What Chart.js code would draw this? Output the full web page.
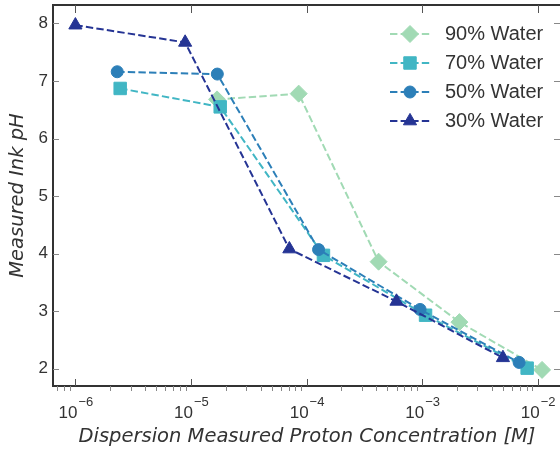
<!DOCTYPE html>
<html>
<head>
<meta charset="utf-8">
<script src="https://cdn.jsdelivr.net/npm/chart.js@4.4.1/dist/chart.umd.min.js"></script>
<style>
    html, body { margin: 0; padding: 0; background: #fff; overflow: hidden; }
    #contenedor { width: 560px; height: 454px; overflow: hidden; }
</style>
</head>
<body>
<div id="contenedor"><canvas id="graficaPh" width="562" height="454"></canvas></div>
<script>
// datos
const etiquetas = ['90% Water', '70% Water', '50% Water', '30% Water'];

const conc90 = [1.68e-5, 8.55e-5, 4.2e-4, 2.1e-3, 1.09e-2];
const ph90 = [6.68, 6.78, 3.86, 2.81, 1.98];

const conc70 = [2.44e-6, 1.79e-5, 1.40e-4, 1.07e-3, 8.1e-3];
const ph70 = [6.87, 6.55, 3.97, 2.93, 2.01];

const conc50 = [2.3e-6, 1.69e-5, 1.27e-4, 9.6e-4, 6.9e-3];
const ph50 = [7.16, 7.12, 4.07, 3.03, 2.11];

const conc30 = [1.0e-6, 8.9e-6, 7.1e-5, 6.0e-4, 5.0e-3];
const ph30 = [7.97, 7.67, 4.08, 3.17, 2.19];

const xMayores = [1e-6, 1e-5, 1e-4, 1e-3, 1e-2];
const yTicks = [2, 3, 4, 5, 6, 7, 8];

const colores = ['#a1dab4', '#41b6c4', '#2c7fb8', '#253494'];
const marcadores = ['rectRot', 'rect', 'circle', 'triangle'];
const radios = [8.5, 8.8, 6, 7.6];

const series = [[conc90, ph90], [conc70, ph70], [conc50, ph50], [conc30, ph30]];

function puntos(xs, ys) {
    return xs.map((v, i) => ({ x: v, y: ys[i] }));
}

const datasets = series.map((s, i) => ({
    label: etiquetas[i],
    data: puntos(s[0], s[1]),
    showLine: true,
    borderColor: colores[i],
    backgroundColor: colores[i],
    borderWidth: 2,
    borderDash: [7.4, 3.2],
    pointStyle: marcadores[i],
    pointRadius: radios[i],
    pointBorderWidth: 1,
    pointBorderColor: colores[i],
    pointBackgroundColor: colores[i],
    order: series.length - i
}));

const colorTexto = '#333';

function linea(ctx, x1, y1, x2, y2) {
    ctx.beginPath();
    ctx.moveTo(x1, y1);
    ctx.lineTo(x2, y2);
    ctx.stroke();
}

const ejesPlugin = {
    id: 'ejes',
    afterDraw(chart) {
        const ctx = chart.ctx;
        const area = chart.chartArea;
        const sx = chart.scales.x;
        const sy = chart.scales.y;
        ctx.save();

        // marco
        ctx.strokeStyle = '#333';
        ctx.lineWidth = 2;
        ctx.beginPath();
        ctx.moveTo(area.left, area.top);
        ctx.lineTo(area.right, area.top);
        ctx.lineTo(area.right, area.bottom);
        ctx.lineTo(area.left, area.bottom);
        ctx.closePath();
        ctx.stroke();

        // ticks mayores en x
        ctx.lineWidth = 1;
        ctx.strokeStyle = '#555';
        xMayores.forEach((v) => {
            const px = Math.round(sx.getPixelForValue(v)) + 0.5;
            linea(ctx, px, area.bottom, px, area.bottom - 7);
            linea(ctx, px, area.top, px, area.top + 8);
        });

        // ticks menores en x (por fuera)
        ctx.strokeStyle = '#888';
        for (let e = -7; e <= -2; e++) {
            for (let m = 2; m <= 9; m++) {
                const v = m * Math.pow(10, e);
                if (v < sx.min || v > sx.max) continue;
                const px = Math.round(sx.getPixelForValue(v)) + 0.5;
                linea(ctx, px, area.bottom, px, area.bottom + 5);
            }
        }

        // ticks en y
        ctx.strokeStyle = '#888';
        yTicks.forEach((v) => {
            const py = Math.round(sy.getPixelForValue(v)) + 0.5;
            linea(ctx, area.left, py, area.left + 6, py);
            linea(ctx, area.right, py, area.right - 7, py);
        });

        // etiquetas de x con exponente
        ctx.fillStyle = colorTexto;
        ctx.textBaseline = 'middle';
        ctx.textAlign = 'left';
        const fBase = '17px "Liberation Sans"';
        const fExp = '13px "Liberation Sans"';
        xMayores.forEach((v) => {
            const px = sx.getPixelForValue(v);
            const exp = '\u2212' + Math.abs(Math.round(Math.log10(v)));
            ctx.font = fBase;
            const wBase = ctx.measureText('10').width;
            ctx.font = fExp;
            const wExp = ctx.measureText(exp).width;
            const x0 = px - (wBase + wExp) / 2;
            ctx.font = fBase;
            ctx.fillText('10', x0, area.bottom + 27);
            ctx.font = fExp;
            ctx.fillText(exp, x0 + wBase + 1, area.bottom + 16);
        });

        // leyenda
        chart.data.datasets.forEach((ds, i) => {
            const yy = area.top + 29 + i * 29;
            ctx.strokeStyle = ds.borderColor;
            ctx.lineWidth = 2;
            ctx.setLineDash(ds.borderDash);
            linea(ctx, 390, yy, 430, yy);
            ctx.setLineDash([]);
            ctx.fillStyle = ds.backgroundColor;
            ctx.strokeStyle = ds.borderColor;
            ctx.lineWidth = 1;
            Chart.helpers.drawPoint(ctx, {
                pointStyle: ds.pointStyle,
                radius: ds.pointRadius,
                rotation: 0,
                borderWidth: 1
            }, 410, yy);
            ctx.fillStyle = colorTexto;
            ctx.font = '20px "Liberation Sans"';
            ctx.textAlign = 'left';
            ctx.fillText(ds.label, 445, yy);
        });

        ctx.restore();
    }
};

const canvas = document.getElementById('graficaPh');

new Chart(canvas, {
    type: 'scatter',
    data: { datasets: datasets },
    options: {
        responsive: false,
        animation: false,
        events: [],
        layout: {
            autoPadding: false,
            padding: { top: 5, right: 1, left: 0, bottom: 0 }
        },
        plugins: {
            legend: { display: false },
            tooltip: { enabled: false }
        },
        scales: {
            x: {
                type: 'logarithmic',
                position: 'bottom',
                min: 6.4e-7,
                max: 0.0159,
                grid: { display: false, drawTicks: false },
                border: { display: false },
                ticks: { display: false },
                title: {
                    display: true,
                    text: 'Dispersion Measured Proton Concentration [M]',
                    color: colorTexto,
                    font: { family: 'DejaVu Sans', size: 19.5, style: 'italic' },
                    padding: { top: 0, bottom: 5 }
                },
                afterFit: function (scale) {
                    scale.height = 68;
                    scale.paddingLeft = 0;
                    scale.paddingRight = 0;
                }
            },
            y: {
                min: 1.70,
                max: 8.32,
                grid: { display: false, drawTicks: false },
                border: { display: false },
                ticks: {
                    color: colorTexto,
                    padding: 5,
                    font: { family: 'Liberation Sans', size: 17 }
                },
                afterBuildTicks: function (scale) {
                    scale.ticks = yTicks.map((v) => ({ value: v }));
                },
                title: {
                    display: true,
                    text: 'Measured Ink pH',
                    color: colorTexto,
                    font: { family: 'DejaVu Sans', size: 19.5, style: 'italic' },
                    padding: { top: 6, bottom: 0 }
                },
                afterFit: function (scale) {
                    scale.width = 53;
                    scale.paddingTop = 0;
                    scale.paddingBottom = 0;
                }
            }
        }
    },
    plugins: [ejesPlugin]
});
</script>
</body>
</html>
